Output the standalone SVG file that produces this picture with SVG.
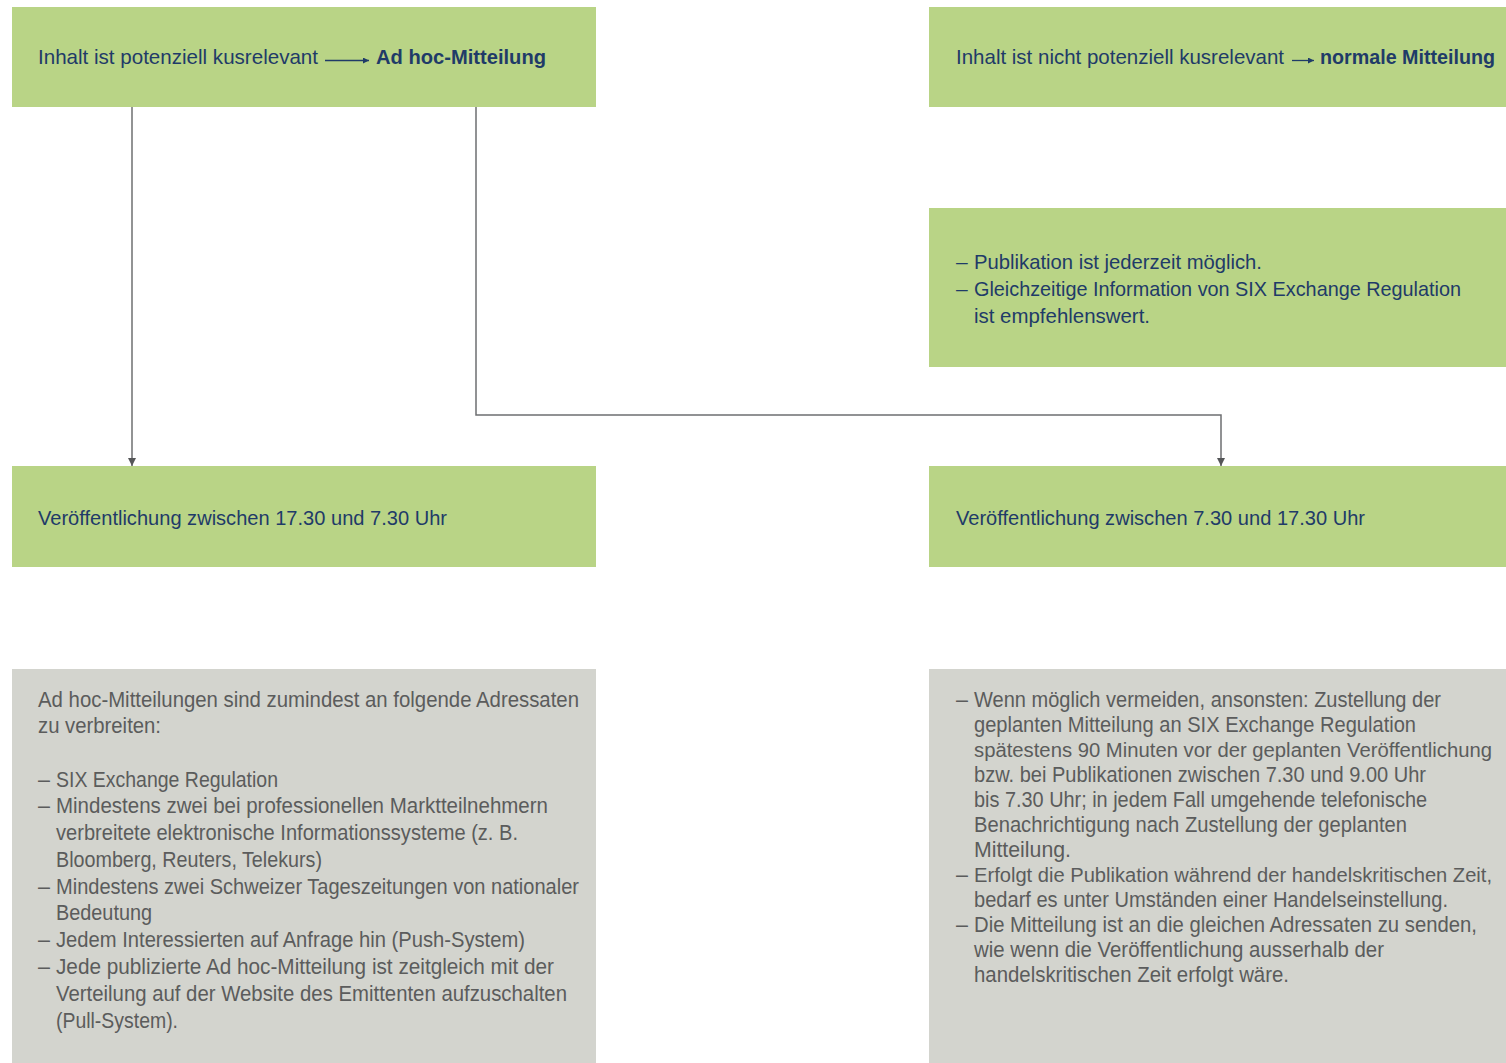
<svg xmlns="http://www.w3.org/2000/svg" width="1506" height="1063" viewBox="0 0 1506 1063">
<style>
.g{fill:#b9d486}
.q{fill:#d3d4ce}
.t{font-family:"Liberation Sans",Arial,sans-serif;font-size:21px;fill:#1f3b68}
.b{font-weight:bold}
.s{font-family:"Liberation Sans",Arial,sans-serif;font-size:21.5px;fill:#5b5c5c}
.n{font-size:19.5px}
.c{stroke:#6e6f71;stroke-width:1.5;fill:none}
.ha{stroke:#1f3b68;stroke-width:1.3;fill:none}
</style>
<defs>
<marker id="ar" viewBox="0 0 10 10" refX="10" refY="5" markerWidth="10" markerHeight="8" markerUnits="userSpaceOnUse" orient="auto">
<path d="M0,0 L10,5 L0,10 Z" fill="#555658"/>
</marker>
<marker id="ha" viewBox="0 0 10 10" refX="10" refY="5" markerWidth="10" markerHeight="6" markerUnits="userSpaceOnUse" orient="auto">
<path d="M0,0 L10,5 L0,10 Z" fill="#1f3b68"/>
</marker>
</defs>
<rect width="1506" height="1063" fill="#ffffff"/>

<g id="connectors">
<path class="c" d="M132,107 V466" marker-end="url(#ar)"/>
<path class="c" d="M476,107 V415 H1221 V466" marker-end="url(#ar)"/>
</g>

<g id="n1">
<rect class="g" x="12" y="7" width="584" height="100"/>
<text class="t" x="38" y="64" textLength="280" lengthAdjust="spacingAndGlyphs">Inhalt ist potenziell kusrelevant</text>
<path class="ha" d="M325,60.5 H369" marker-end="url(#ha)"/>
<text class="t b" x="376" y="64" textLength="170" lengthAdjust="spacingAndGlyphs">Ad hoc-Mitteilung</text>
</g>

<g id="n2">
<rect class="g" x="929" y="7" width="577" height="100"/>
<text class="t" x="956" y="64" textLength="328" lengthAdjust="spacingAndGlyphs">Inhalt ist nicht potenziell kusrelevant</text>
<path class="ha" d="M1292,60.5 H1314" marker-end="url(#ha)"/>
<text class="t b" x="1320" y="64" textLength="175" lengthAdjust="spacingAndGlyphs">normale Mitteilung</text>
</g>

<g id="n3">
<rect class="g" x="929" y="208" width="577" height="159"/>
<text class="t" x="956" y="269">–</text>
<text class="t" x="974" y="269" textLength="288" lengthAdjust="spacingAndGlyphs">Publikation ist jederzeit möglich.</text>
<text class="t" x="956" y="296">–</text>
<text class="t" x="974" y="296" textLength="487" lengthAdjust="spacingAndGlyphs">Gleichzeitige Information von SIX Exchange Regulation</text>
<text class="t" x="974" y="323" textLength="176" lengthAdjust="spacingAndGlyphs">ist empfehlenswert.</text>
</g>

<g id="n4">
<rect class="g" x="12" y="466" width="584" height="101"/>
<text class="t" x="38" y="525" textLength="409" lengthAdjust="spacingAndGlyphs">Veröffentlichung zwischen 17.30 und 7.30 Uhr</text>
</g>

<g id="n5">
<rect class="g" x="929" y="466" width="577" height="101"/>
<text class="t" x="956" y="525" textLength="409" lengthAdjust="spacingAndGlyphs">Veröffentlichung zwischen 7.30 und 17.30 Uhr</text>
</g>

<g id="n6">
<rect class="q" x="12" y="669" width="584" height="394"/>
<text class="s" x="38" y="707" textLength="541" lengthAdjust="spacingAndGlyphs">Ad hoc-Mitteilungen sind zumindest an folgende Adressaten</text>
<text class="s" x="38" y="733" textLength="123" lengthAdjust="spacingAndGlyphs">zu verbreiten:</text>
<text class="s" x="38" y="787">–</text>
<text class="s" x="56" y="787" textLength="222" lengthAdjust="spacingAndGlyphs">SIX Exchange Regulation</text>
<text class="s" x="38" y="813">–</text>
<text class="s" x="56" y="813" textLength="492" lengthAdjust="spacingAndGlyphs">Mindestens zwei bei professionellen Marktteilnehmern</text>
<text class="s" x="56" y="840" textLength="462" lengthAdjust="spacingAndGlyphs">verbreitete elektronische Informationssysteme (z. B.</text>
<text class="s" x="56" y="867" textLength="266" lengthAdjust="spacingAndGlyphs">Bloomberg, Reuters, Telekurs)</text>
<text class="s" x="38" y="894">–</text>
<text class="s" x="56" y="894" textLength="523" lengthAdjust="spacingAndGlyphs">Mindestens zwei Schweizer Tageszeitungen von nationaler</text>
<text class="s" x="56" y="920" textLength="96" lengthAdjust="spacingAndGlyphs">Bedeutung</text>
<text class="s" x="38" y="947">–</text>
<text class="s" x="56" y="947" textLength="469" lengthAdjust="spacingAndGlyphs">Jedem Interessierten auf Anfrage hin (Push-System)</text>
<text class="s" x="38" y="974">–</text>
<text class="s" x="56" y="974" textLength="498" lengthAdjust="spacingAndGlyphs">Jede publizierte Ad hoc-Mitteilung ist zeitgleich mit der</text>
<text class="s" x="56" y="1001" textLength="511" lengthAdjust="spacingAndGlyphs">Verteilung auf der Website des Emittenten aufzuschalten</text>
<text class="s" x="56" y="1028" textLength="122" lengthAdjust="spacingAndGlyphs">(Pull-System).</text>
</g>

<g id="n7">
<rect class="q" x="929" y="669" width="577" height="394"/>
<text class="s" x="956" y="707">–</text>
<text class="s" x="974" y="707" textLength="467" lengthAdjust="spacingAndGlyphs">Wenn möglich vermeiden, ansonsten: Zustellung der</text>
<text class="s" x="974" y="732" textLength="442" lengthAdjust="spacingAndGlyphs">geplanten Mitteilung an SIX Exchange Regulation</text>
<text class="s n" x="974" y="757" textLength="518" lengthAdjust="spacingAndGlyphs">spätestens 90 Minuten vor der geplanten Veröffentlichung</text>
<text class="s" x="974" y="782" textLength="452" lengthAdjust="spacingAndGlyphs">bzw. bei Publikationen zwischen 7.30 und 9.00 Uhr</text>
<text class="s" x="974" y="807" textLength="453" lengthAdjust="spacingAndGlyphs">bis 7.30 Uhr; in jedem Fall umgehende telefonische</text>
<text class="s" x="974" y="832" textLength="433" lengthAdjust="spacingAndGlyphs">Benachrichtigung nach Zustellung der geplanten</text>
<text class="s" x="974" y="857" textLength="97" lengthAdjust="spacingAndGlyphs">Mitteilung.</text>
<text class="s" x="956" y="882">–</text>
<text class="s n" x="974" y="882" textLength="518" lengthAdjust="spacingAndGlyphs">Erfolgt die Publikation während der handelskritischen Zeit,</text>
<text class="s" x="974" y="907" textLength="474" lengthAdjust="spacingAndGlyphs">bedarf es unter Umständen einer Handelseinstellung.</text>
<text class="s" x="956" y="932">–</text>
<text class="s" x="974" y="932" textLength="503" lengthAdjust="spacingAndGlyphs">Die Mitteilung ist an die gleichen Adressaten zu senden,</text>
<text class="s" x="974" y="957" textLength="410" lengthAdjust="spacingAndGlyphs">wie wenn die Veröffentlichung ausserhalb der</text>
<text class="s" x="974" y="982" textLength="315" lengthAdjust="spacingAndGlyphs">handelskritischen Zeit erfolgt wäre.</text>
</g>
</svg>
